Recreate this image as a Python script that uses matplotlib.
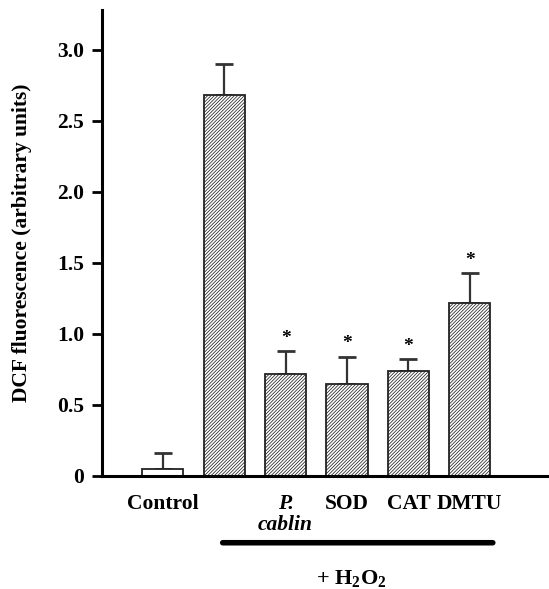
import matplotlib
matplotlib.use("Agg")
import matplotlib.pyplot as plt
import numpy as np

categories = ["Control", "H2O2", "P.\ncablin", "SOD", "CAT", "DMTU"]
tick_labels = ["Control", "", "P.\ncablin", "SOD", "CAT", "DMTU"]
values = [0.05, 2.68, 0.72, 0.65, 0.74, 1.22]
errors = [0.11, 0.22, 0.16, 0.19, 0.08, 0.21]
significant = [False, False, True, True, True, True]
yticks = [0, 0.5, 1.0, 1.5, 2.0, 2.5, 3.0]
ytick_labels = ["0", "0.5", "1.0", "1.5", "2.0", "2.5", "3.0"]

plt.rcParams['font.family'] = ['Liberation Serif', 'DejaVu Serif']
plt.rcParams['font.weight'] = 'bold'
plt.rcParams['mathtext.fontset'] = 'custom'
plt.rcParams['mathtext.rm'] = 'Liberation Serif:bold'
plt.rcParams['mathtext.it'] = 'Liberation Serif:bold:italic'
plt.rcParams['mathtext.bf'] = 'Liberation Serif:bold'
plt.rcParams['hatch.linewidth'] = 0.55
plt.rcParams['hatch.color'] = '#222222'

fig = plt.figure(figsize=(5.49, 5.89), dpi=100)
ax = fig.add_axes([0.1858, 0.1919, 0.8142, 0.7911])

x = np.arange(len(categories))
for i in range(len(categories)):
    hatch = None if i == 0 else '//////////'
    ax.bar(x[i], values[i], width=0.67, facecolor='white', edgecolor='#222222',
           linewidth=1.3, hatch=hatch, zorder=2)
    ax.errorbar(x[i], values[i], yerr=[[0], [errors[i]]], fmt='none',
                ecolor='#333333', elinewidth=1.6, capsize=6.5, capthick=2.0, zorder=1)
    if significant[i]:
        ax.text(x[i], values[i] + errors[i] + 0.03, '*', ha='center', va='bottom',
                fontsize=14, fontweight='bold')

ax.set_xlim(-0.99, 6.29)
ax.set_ylim(0, 3.28)
ax.set_yticks(yticks)
ax.set_yticklabels(ytick_labels, fontsize=15.5, fontweight='bold')
ax.set_xticks(x)
ax.set_xticklabels(tick_labels, fontsize=15.5, fontweight='bold', va='top',
                   linespacing=1.05)
ax.get_xticklabels()[2].set_fontstyle('italic')
ax.tick_params(axis='x', length=0, pad=13)
ax.tick_params(axis='y', length=7, width=2, direction='out', pad=6)
for s in ['top', 'right']:
    ax.spines[s].set_visible(False)
for s in ['left', 'bottom']:
    ax.spines[s].set_linewidth(2.2)

ax.set_ylabel('DCF fluorescence (arbitrary units)', fontsize=15.5, fontweight='bold', labelpad=18)

# H2O2 bracket line
ax.annotate('', xy=(0.93, -0.47), xytext=(5.42, -0.47), xycoords=('data', 'data'),
            annotation_clip=False,
            arrowprops=dict(arrowstyle='-', linewidth=4, color='black'))
ax.text(3.07, -0.72, '$\\mathbf{+\\ H_2O_2}$', ha='center', va='center',
        fontsize=16, fontweight='bold', clip_on=False)

fig.savefig('out.png', dpi=100)
